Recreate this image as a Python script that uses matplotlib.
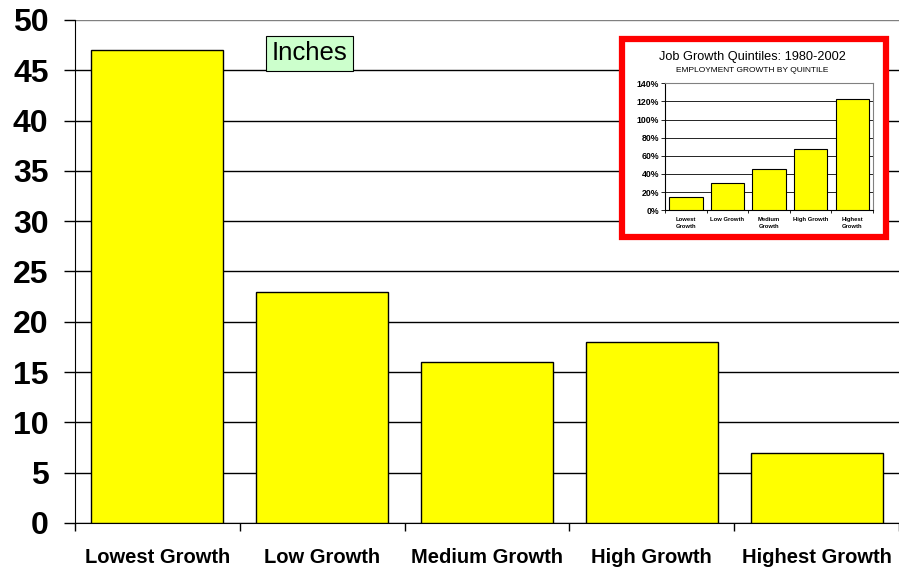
import numpy as np
import matplotlib.pyplot as plt
from matplotlib.patches import Rectangle

plt.rcParams['font.family'] = ['Liberation Sans', 'DejaVu Sans']

# main chart data
categories = ['Lowest Growth', 'Low Growth', 'Medium Growth', 'High Growth', 'Highest Growth']
inches = [47, 23, 16, 18, 7]

# inset chart data
inset_labels = ['Lowest\nGrowth', 'Low Growth', 'Medium\nGrowth', 'High Growth', 'Highest\nGrowth']
job_growth = [14, 30, 45, 67, 123]

fig = plt.figure(figsize=(8.99, 5.71), dpi=100)
ax = fig.add_axes([0.0834, 0.0841, 0.9166, 0.8809])

x = np.arange(len(categories))
ax.bar(x, inches, width=0.8, color='#FFFF00', edgecolor='black', linewidth=1, zorder=3)
ax.set_xlim(-0.5, len(categories) - 0.5)
ax.set_ylim(0, 50)
ax.set_yticks(range(0, 51, 5))
ax.set_yticklabels([str(v) for v in range(0, 51, 5)], fontsize=23, fontweight='bold')
ax.yaxis.grid(True, color='black', linewidth=1, zorder=0)
ax.get_ygridlines()[-1].set_color('#808080')
ax.set_xticks(x)
ax.set_xticklabels(categories, fontsize=14.5, fontweight='bold')
ax.tick_params(axis='x', length=0, pad=18)
ax.tick_params(axis='y', length=8, width=1, pad=11)
ax.set_xticks(np.arange(-0.5, len(categories)), minor=True)
ax.tick_params(axis='x', which='minor', length=6, width=1)
ax.spines['right'].set_visible(False)
ax.spines['top'].set_visible(False)

ax.text(0.924, 46.7, 'Inches', fontsize=18.5, ha='center', va='center', zorder=5,
        bbox=dict(boxstyle='square,pad=0.22', facecolor='#CCFFCC', edgecolor='black', linewidth=0.8))

# red framed inset
frame = Rectangle((0.692, 0.585), 0.2937, 0.347, transform=fig.transFigure,
                  facecolor='white', edgecolor='#FF0000', linewidth=4.5, zorder=10)
fig.patches.append(frame)
fig.text(0.8365, 0.9, 'Job Growth Quintiles: 1980-2002', fontsize=9.2, ha='center', va='center', zorder=11)
fig.text(0.8365, 0.877, 'EMPLOYMENT GROWTH BY QUINTILE', fontsize=6, ha='center', va='center', zorder=11)

ins = fig.add_axes([0.740, 0.632, 0.231, 0.222], zorder=12)
ins.patch.set_alpha(0)
xi = np.arange(len(inset_labels))
ins.bar(xi, job_growth, width=0.8, color='#FFFF00', edgecolor='black', linewidth=0.8, zorder=3)
ins.set_xlim(-0.5, len(inset_labels) - 0.5)
ins.set_ylim(0, 140)
ins.set_yticks(range(0, 141, 20))
ins.set_yticklabels([f'{v}%' for v in range(0, 141, 20)], fontsize=6.3, fontweight='bold')
ins.yaxis.grid(True, color='black', linewidth=0.6, zorder=0)
ins.set_xticks(xi)
ins.set_xticklabels(inset_labels, fontsize=4.2, fontweight='bold', va='top', linespacing=1.6)
ins.tick_params(axis='x', length=0, pad=5)
ins.tick_params(axis='y', length=3, width=0.6, pad=1.5)
ins.set_xticks(np.arange(-0.5, len(inset_labels)), minor=True)
ins.tick_params(axis='x', which='minor', length=2.5, width=0.6)
for s in ['top', 'right']:
    ins.spines[s].set_color('#808080')
    ins.spines[s].set_linewidth(0.8)
for s in ['left', 'bottom']:
    ins.spines[s].set_linewidth(0.8)

fig.savefig('out.png', dpi=100)
